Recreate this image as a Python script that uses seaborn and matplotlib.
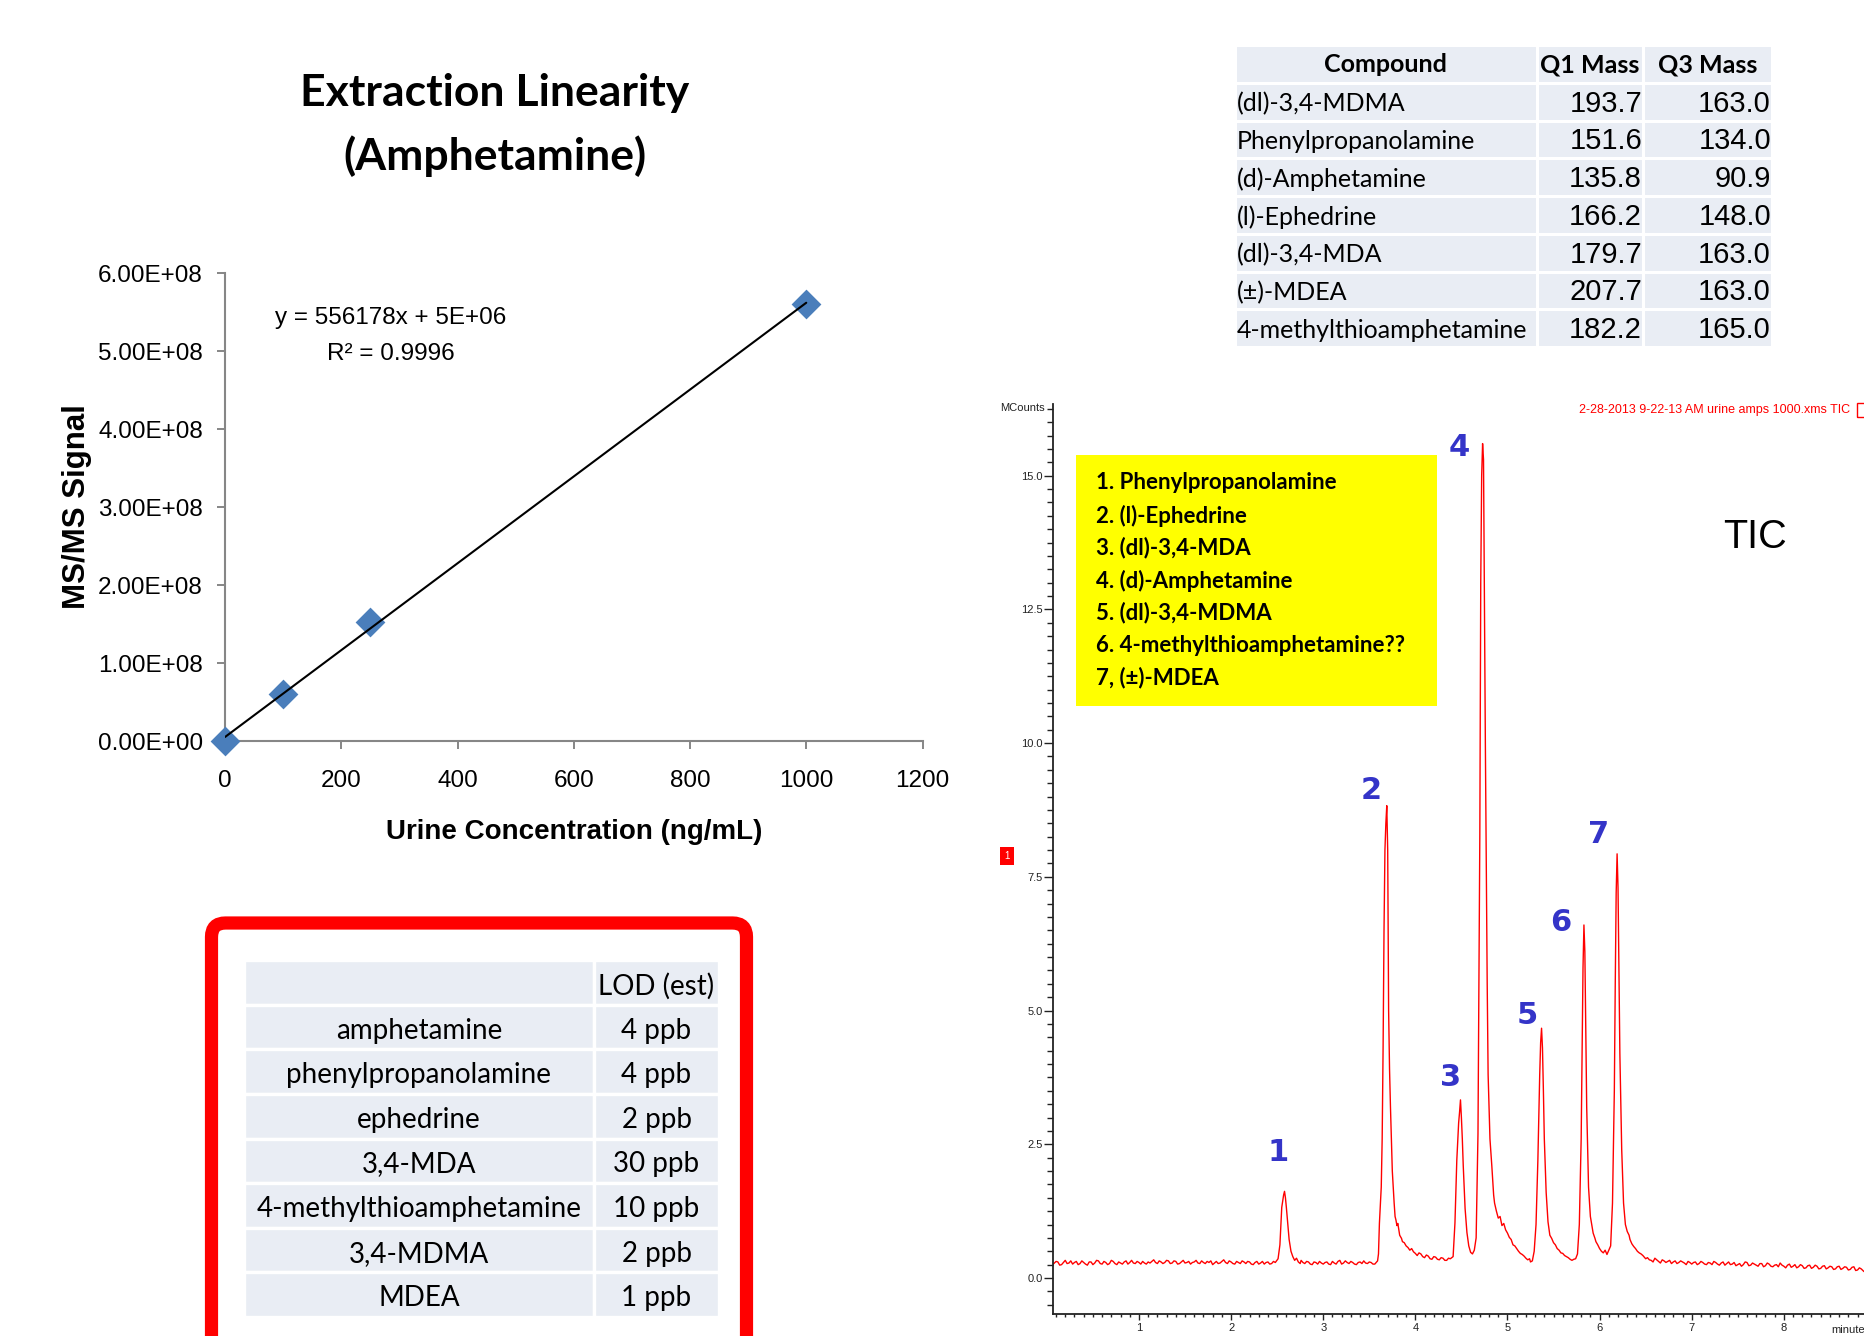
import matplotlib
matplotlib.use("Agg")
import matplotlib.pyplot as plt
import seaborn as sns
import pandas as pd
from matplotlib import font_manager
from matplotlib.patches import Rectangle, FancyBboxPatch
from matplotlib.transforms import IdentityTransform
from matplotlib.ticker import MultipleLocator, FixedLocator, FuncFormatter

# ---------------- data ----------------
conc_ng_ml = [0, 100, 250, 1000]
msms_signal = [0.0, 6.0e7, 1.52e8, 5.60e8]
equation_text = "y = 556178x + 5E+06"
r2_text = "R\u00b2 = 0.9996"
lin_x_ticks = [0, 200, 400, 600, 800, 1000, 1200]
lin_y_ticks = [0, 1e8, 2e8, 3e8, 4e8, 5e8, 6e8]

mrm_header = ["Compound", "Q1 Mass", "Q3 Mass"]
mrm_compounds = ["(dl)-3,4-MDMA", "Phenylpropanolamine", "(d)-Amphetamine", "(l)-Ephedrine",
                 "(dl)-3,4-MDA", "(\u00b1)-MDEA", "4-methylthioamphetamine"]
mrm_q1 = [193.7, 151.6, 135.8, 166.2, 179.7, 207.7, 182.2]
mrm_q3 = [163.0, 134.0, 90.9, 148.0, 163.0, 163.0, 165.0]

lod_header = "LOD (est)"
lod_names = ["amphetamine", "phenylpropanolamine", "ephedrine", "3,4-MDA",
             "4-methylthioamphetamine", "3,4-MDMA", "MDEA"]
lod_values = ["4 ppb", "4 ppb", "2 ppb", "30 ppb", "10 ppb", "2 ppb", "1 ppb"]

peak_legend = ["1. Phenylpropanolamine", "2. (l)-Ephedrine", "3. (dl)-3,4-MDA",
               "4. (d)-Amphetamine", "5. (dl)-3,4-MDMA", "6. 4-methylthioamphetamine??",
               "7, (\u00b1)-MDEA"]
peak_ids = ["1", "2", "3", "4", "5", "6", "7"]
peak_label_min = [2.51, 3.52, 4.38, 4.48, 5.22, 5.58, 5.99]
peak_label_mcounts = [2.34, 9.12, 3.74, 15.52, 4.90, 6.65, 8.30]
tic_y_ticks = [0.0, 2.5, 5.0, 7.5, 10.0, 12.5, 15.0]
tic_x_ticks = [1, 2, 3, 4, 5, 6, 7, 8]
run_header = "2-28-2013 9-22-13 AM urine amps 1000.xms TIC"

# TIC trace (minutes, MCounts)
tic_points = [
    (0.07, 0.26), (0.10, 0.31), (0.12, 0.30), (0.14, 0.24), (0.16, 0.25), (0.18, 0.29), (0.20, 0.33),
    (0.22, 0.27), (0.24, 0.28), (0.26, 0.32), (0.28, 0.26), (0.30, 0.29), (0.32, 0.31), (0.34, 0.25),
    (0.36, 0.27), (0.38, 0.32), (0.40, 0.29), (0.42, 0.26), (0.44, 0.24), (0.46, 0.30), (0.48, 0.30),
    (0.50, 0.25), (0.52, 0.28), (0.54, 0.33), (0.56, 0.32), (0.58, 0.27), (0.60, 0.26), (0.62, 0.31),
    (0.64, 0.29), (0.66, 0.25), (0.68, 0.27), (0.70, 0.33), (0.72, 0.31), (0.74, 0.27), (0.76, 0.25),
    (0.78, 0.30), (0.80, 0.28), (0.82, 0.26), (0.84, 0.30), (0.86, 0.32), (0.88, 0.26), (0.90, 0.29),
    (0.92, 0.33), (0.94, 0.28), (0.96, 0.27), (0.98, 0.31), (1.00, 0.29), (1.02, 0.26), (1.04, 0.31),
    (1.06, 0.28), (1.08, 0.26), (1.10, 0.30), (1.12, 0.28), (1.14, 0.31), (1.16, 0.34), (1.18, 0.29),
    (1.20, 0.27), (1.22, 0.32), (1.24, 0.30), (1.26, 0.27), (1.28, 0.29), (1.30, 0.33), (1.32, 0.32),
    (1.34, 0.27), (1.36, 0.28), (1.38, 0.32), (1.40, 0.31), (1.42, 0.26), (1.44, 0.27), (1.46, 0.30),
    (1.48, 0.33), (1.50, 0.28), (1.52, 0.29), (1.54, 0.31), (1.56, 0.26), (1.58, 0.29), (1.60, 0.30),
    (1.62, 0.33), (1.64, 0.28), (1.66, 0.27), (1.68, 0.32), (1.70, 0.29), (1.72, 0.27), (1.74, 0.31),
    (1.76, 0.29), (1.78, 0.32), (1.80, 0.25), (1.82, 0.28), (1.84, 0.31), (1.86, 0.27), (1.88, 0.28),
    (1.90, 0.31), (1.92, 0.34), (1.94, 0.29), (1.96, 0.27), (1.98, 0.32), (2.00, 0.30), (2.02, 0.27),
    (2.04, 0.26), (2.06, 0.31), (2.08, 0.29), (2.10, 0.27), (2.12, 0.32), (2.14, 0.30), (2.16, 0.27),
    (2.18, 0.31), (2.20, 0.30), (2.22, 0.26), (2.24, 0.25), (2.26, 0.29), (2.28, 0.31), (2.30, 0.26),
    (2.32, 0.28), (2.34, 0.31), (2.36, 0.26), (2.38, 0.29), (2.40, 0.30), (2.42, 0.26), (2.44, 0.27),
    (2.46, 0.31), (2.48, 0.29),
    # peak 1
    (2.51, 0.36), (2.53, 0.62), (2.55, 1.32), (2.57, 1.55), (2.58, 1.62), (2.59, 1.50), (2.60, 1.32),
    (2.62, 0.92), (2.63, 0.72), (2.65, 0.50), (2.67, 0.40), (2.69, 0.33), (2.71, 0.37), (2.73, 0.30),
    (2.75, 0.27), (2.76, 0.33), (2.78, 0.29), (2.80, 0.27), (2.82, 0.31), (2.84, 0.30), (2.86, 0.26),
    (2.88, 0.25), (2.90, 0.30), (2.92, 0.29), (2.94, 0.26), (2.96, 0.31), (2.98, 0.28), (3.00, 0.26),
    (3.02, 0.29), (3.04, 0.30), (3.06, 0.26), (3.08, 0.25), (3.10, 0.31), (3.12, 0.28), (3.14, 0.26),
    (3.16, 0.31), (3.18, 0.33), (3.20, 0.26), (3.22, 0.28), (3.24, 0.32), (3.26, 0.29), (3.28, 0.27),
    (3.30, 0.31), (3.32, 0.29), (3.34, 0.26), (3.36, 0.25), (3.38, 0.29), (3.40, 0.30), (3.42, 0.27),
    (3.44, 0.32), (3.46, 0.28), (3.48, 0.27), (3.50, 0.30), (3.52, 0.29), (3.54, 0.26), (3.56, 0.26),
    # peak 2
    (3.59, 0.32), (3.60, 0.45), (3.61, 1.02), (3.63, 1.70), (3.64, 2.60), (3.65, 4.30), (3.66, 6.50),
    (3.67, 8.00), (3.68, 8.50), (3.69, 8.83), (3.70, 8.00), (3.71, 5.00), (3.72, 3.90), (3.73, 3.20),
    (3.75, 2.00), (3.77, 1.40), (3.78, 1.15), (3.79, 1.08), (3.80, 0.98), (3.81, 1.02), (3.83, 0.80),
    (3.85, 0.74), (3.86, 0.68), (3.88, 0.66), (3.90, 0.60), (3.92, 0.57), (3.94, 0.52), (3.96, 0.55),
    (3.98, 0.49), (4.00, 0.46), (4.02, 0.42), (4.04, 0.47), (4.06, 0.45), (4.08, 0.40), (4.10, 0.38),
    (4.12, 0.43), (4.14, 0.41), (4.16, 0.36), (4.18, 0.35), (4.20, 0.40), (4.22, 0.39), (4.24, 0.35),
    (4.26, 0.34), (4.28, 0.38), (4.30, 0.37), (4.32, 0.33), (4.34, 0.33), (4.36, 0.37), (4.38, 0.36),
    (4.41, 0.40),
    # peak 3
    (4.43, 1.03), (4.45, 2.20), (4.47, 2.90), (4.48, 3.10), (4.49, 3.33), (4.50, 3.00), (4.51, 2.60),
    (4.52, 2.10), (4.54, 1.30), (4.56, 0.85), (4.58, 0.60), (4.60, 0.48), (4.62, 0.45), (4.64, 0.52),
    (4.66, 0.75),
    # peak 4
    (4.68, 2.70), (4.70, 8.30), (4.71, 13.00), (4.72, 15.00), (4.73, 15.60), (4.74, 15.30),
    (4.75, 12.50), (4.76, 10.00), (4.77, 7.80), (4.78, 5.50), (4.79, 3.80), (4.81, 2.60), (4.83, 2.10),
    (4.85, 1.55), (4.86, 1.40), (4.88, 1.25), (4.90, 1.12), (4.92, 1.15), (4.94, 0.98), (4.96, 1.02),
    (4.98, 0.90), (5.00, 0.84), (5.02, 0.76), (5.04, 0.72), (5.06, 0.62), (5.08, 0.60), (5.10, 0.55),
    (5.12, 0.50), (5.14, 0.46), (5.16, 0.44), (5.18, 0.41), (5.20, 0.37), (5.22, 0.34), (5.24, 0.36),
    (5.25, 0.30),
    # peak 5
    (5.27, 0.32), (5.29, 0.50), (5.31, 1.00), (5.33, 2.20), (5.35, 3.80), (5.36, 4.40), (5.37, 4.67),
    (5.38, 4.30), (5.39, 3.50), (5.40, 2.60), (5.42, 1.60), (5.44, 1.05), (5.46, 0.80), (5.48, 0.74),
    (5.50, 0.66), (5.52, 0.62), (5.54, 0.55), (5.56, 0.52), (5.58, 0.47), (5.60, 0.46), (5.62, 0.42),
    (5.64, 0.40), (5.66, 0.38), (5.68, 0.35), (5.70, 0.33), (5.72, 0.35), (5.74, 0.36),
    # peak 6
    (5.76, 0.45), (5.78, 1.00), (5.80, 2.60), (5.81, 4.20), (5.82, 5.80), (5.83, 6.60), (5.84, 6.10),
    (5.85, 4.60), (5.86, 3.20), (5.88, 1.70), (5.90, 1.15), (5.92, 0.95), (5.93, 0.84), (5.95, 0.74),
    (5.96, 0.68), (5.98, 0.62), (6.00, 0.55), (6.02, 0.50), (6.04, 0.47), (6.06, 0.52), (6.08, 0.44),
    (6.10, 0.52),
    # peak 7
    (6.12, 0.60), (6.14, 1.40), (6.16, 3.50), (6.17, 5.50), (6.18, 7.20), (6.19, 7.93), (6.20, 7.30),
    (6.21, 5.80), (6.22, 4.20), (6.24, 2.40), (6.26, 1.40), (6.28, 1.00), (6.30, 0.87), (6.32, 0.80),
    (6.33, 0.72), (6.35, 0.64), (6.37, 0.59), (6.39, 0.55), (6.41, 0.50), (6.43, 0.47), (6.45, 0.45),
    (6.47, 0.42), (6.48, 0.40), (6.50, 0.36), (6.52, 0.38), (6.54, 0.34),
    (6.56, 0.33), (6.58, 0.30), (6.60, 0.37), (6.62, 0.34), (6.64, 0.31), (6.66, 0.28), (6.68, 0.34),
    (6.70, 0.32), (6.72, 0.29), (6.74, 0.31), (6.76, 0.33), (6.78, 0.27), (6.80, 0.30), (6.82, 0.32),
    (6.84, 0.27), (6.86, 0.29), (6.88, 0.32), (6.90, 0.30), (6.92, 0.28), (6.94, 0.25), (6.96, 0.31),
    (6.98, 0.29), (7.00, 0.26), (7.02, 0.29), (7.04, 0.30), (7.06, 0.25), (7.08, 0.27), (7.10, 0.31),
    (7.12, 0.29), (7.14, 0.26), (7.16, 0.25), (7.18, 0.29), (7.20, 0.28), (7.22, 0.25), (7.24, 0.31),
    (7.26, 0.29), (7.28, 0.26), (7.30, 0.24), (7.32, 0.28), (7.34, 0.30), (7.36, 0.24), (7.38, 0.27),
    (7.40, 0.30), (7.42, 0.25), (7.44, 0.26), (7.46, 0.29), (7.48, 0.23), (7.50, 0.25), (7.52, 0.27),
    (7.54, 0.22), (7.56, 0.25), (7.58, 0.30), (7.60, 0.29), (7.62, 0.23), (7.64, 0.24), (7.66, 0.28),
    (7.68, 0.26), (7.70, 0.24), (7.72, 0.22), (7.74, 0.27), (7.76, 0.27), (7.78, 0.21), (7.80, 0.23),
    (7.82, 0.28), (7.84, 0.26), (7.86, 0.22), (7.88, 0.21), (7.90, 0.24), (7.92, 0.25), (7.94, 0.21),
    (7.96, 0.28), (7.98, 0.24), (8.00, 0.22), (8.02, 0.19), (8.04, 0.24), (8.06, 0.26), (8.08, 0.20),
    (8.10, 0.22), (8.12, 0.25), (8.14, 0.19), (8.16, 0.21), (8.18, 0.25), (8.20, 0.23), (8.22, 0.18),
    (8.24, 0.19), (8.26, 0.23), (8.28, 0.24), (8.30, 0.18), (8.32, 0.20), (8.34, 0.24), (8.36, 0.22),
    (8.38, 0.17), (8.40, 0.18), (8.42, 0.22), (8.44, 0.23), (8.46, 0.17), (8.48, 0.19), (8.50, 0.22),
    (8.52, 0.21), (8.54, 0.16), (8.56, 0.17), (8.58, 0.21), (8.60, 0.22), (8.62, 0.16), (8.64, 0.18),
    (8.66, 0.21), (8.68, 0.20), (8.70, 0.15), (8.72, 0.16), (8.74, 0.20), (8.76, 0.21), (8.78, 0.14),
    (8.80, 0.15), (8.82, 0.19), (8.84, 0.17), (8.87, 0.12),
]

# ---------------- style ----------------
sns.set_theme(style="white")
_names = {f.name for f in font_manager.fontManager.ttflist}
CAL = "Lato" if "Lato" in _names else "DejaVu Sans"
NARROW = "Liberation Sans Narrow" if "Liberation Sans Narrow" in _names else "Liberation Sans"
ARIAL = "Liberation Sans"
plt.rcParams["font.family"] = [CAL, "DejaVu Sans"]
plt.rcParams["text.color"] = "black"
plt.rcParams["axes.labelcolor"] = "black"

W, H = 1864, 1336
fig = plt.figure(figsize=(W / 100, H / 100), dpi=100, facecolor="white")


def rect(l, t, r, b):
    return [l / W, 1 - b / H, (r - l) / W, (b - t) / H]


def fpos(x, y):
    return x / W, 1 - y / H


CELL = "#E9EDF4"
AXGREY = "#868686"

# ---------------- linearity plot ----------------
ax1 = fig.add_axes(rect(225, 273, 922.5, 741))
lin = pd.DataFrame({"conc": conc_ng_ml, "signal": msms_signal})
sns.regplot(data=lin, x="conc", y="signal", scatter=False, ci=None, truncate=True,
            color="black", line_kws={"linewidth": 1.5, "zorder": 4}, ax=ax1)
sns.scatterplot(data=lin, x="conc", y="signal", marker="D", s=230, color="#4A7EBB",
                linewidth=0, zorder=3, clip_on=False, legend=False, ax=ax1)
ax1.set_xlim(0, 1200)
ax1.set_ylim(0, 6e8)
ax1.xaxis.set_major_locator(FixedLocator(lin_x_ticks))
ax1.yaxis.set_major_locator(FixedLocator(lin_y_ticks))
ax1.yaxis.set_major_formatter(FuncFormatter(lambda v, p: f"{v:.2E}"))
sns.despine(ax=ax1)
for s in ("left", "bottom"):
    ax1.spines[s].set_color(AXGREY)
    ax1.spines[s].set_linewidth(1.5)
ax1.tick_params(axis="both", direction="out", length=6, width=1.4, color=AXGREY,
                labelsize=17.5, labelcolor="black", labelfontfamily=NARROW)
ax1.tick_params(axis="y", pad=10, left=True)
ax1.tick_params(axis="x", pad=15, bottom=True)
ax1.set_xlabel("Urine Concentration (ng/mL)", fontsize=20, fontweight="bold", family=NARROW, color="black")
ax1.set_ylabel("MS/MS Signal", fontsize=22.5, fontweight="bold", family=NARROW, color="black")
ax1.xaxis.label.set_va("center")
ax1.yaxis.label.set_va("center")
ax1.xaxis.set_label_coords(0.5, -(832 - 741) / 468)
ax1.yaxis.set_label_coords((77 - 225) / 697.5, 0.5)

fig.text(*fpos(495, 93), "Extraction Linearity", ha="center", va="center",
         fontsize=32, fontweight="bold", family=CAL, color="black")
fig.text(*fpos(495, 156), "(Amphetamine)", ha="center", va="center",
         fontsize=32, fontweight="bold", family=CAL, color="black")
fig.text(*fpos(391, 318), equation_text, ha="center", va="center", fontsize=17.5, family=NARROW)
fig.text(*fpos(391, 354), r2_text, ha="center", va="center", fontsize=17.5, family=NARROW)

# ---------------- MRM table (top right) ----------------
ax3 = fig.add_axes(rect(1235, 45, 1772, 347))
ax3.set_xlim(0, 537)
ax3.set_ylim(8, 0)
ax3.axis("off")
mrm_edges = [0, 301.5, 408, 537]
rows = [r + 0.5 for r in range(len(mrm_compounds) + 1)]
for c in range(3):
    ax3.barh(rows, [mrm_edges[c + 1] - mrm_edges[c]] * len(rows), left=mrm_edges[c], height=1.0,
             color=CELL, edgecolor="white", linewidth=2.2)
hdr_x = [(mrm_edges[i] + mrm_edges[i + 1]) / 2 for i in range(3)]
for i, h in enumerate(mrm_header):
    ax3.text(hdr_x[i], 0.52, h, ha="center", va="center", fontsize=18, fontweight="bold", family=CAL)
for r, (nm, a, b) in enumerate(zip(mrm_compounds, mrm_q1, mrm_q3)):
    y = r + 1.55
    ax3.text(2, y, nm, ha="left", va="center", fontsize=18, family=CAL)
    ax3.text(mrm_edges[2] - 1, y, f"{a:.1f}", ha="right", va="center", fontsize=21, family=NARROW)
    ax3.text(mrm_edges[3] - 1, y, f"{b:.1f}", ha="right", va="center", fontsize=21, family=NARROW)

# ---------------- LOD table (bottom left) ----------------
frame = FancyBboxPatch((211.5, H - 1420), 535, 1420 - 923,
                       boxstyle="round,pad=0,rounding_size=14", transform=IdentityTransform(),
                       linewidth=9.5, edgecolor="#FF0000", facecolor="none")
fig.add_artist(frame)
ax4 = fig.add_axes(rect(244, 960, 719, 1317))
ax4.set_xlim(0, 475)
ax4.set_ylim(8, 0)
ax4.axis("off")
lod_edges = [0, 350, 475]
rows = [r + 0.5 for r in range(len(lod_names) + 1)]
for c in range(2):
    ax4.barh(rows, [lod_edges[c + 1] - lod_edges[c]] * len(rows), left=lod_edges[c], height=1.0,
             color=CELL, edgecolor="white", linewidth=2.4)
cx = [(lod_edges[i] + lod_edges[i + 1]) / 2 for i in range(2)]
ax4.text(cx[1], 0.58, lod_header, ha="center", va="center", fontsize=20, family=CAL)
for r, (nm, v) in enumerate(zip(lod_names, lod_values)):
    ax4.text(cx[0], r + 1.58, nm, ha="center", va="center", fontsize=20, family=CAL)
    ax4.text(cx[1], r + 1.58, v, ha="center", va="center", fontsize=20, family=CAL)

# ---------------- chromatogram ----------------
ax2 = fig.add_axes(rect(1053, 404, 1864, 1314))
tic = pd.DataFrame(tic_points, columns=["minutes", "MCounts"])
sns.lineplot(data=tic, x="minutes", y="MCounts", color="#FF0000", linewidth=1.0,
             sort=False, estimator=None, ax=ax2)
ax2.set_xlim(0.067, 8.87)
ax2.set_ylim(-0.673, 16.34)
sns.despine(ax=ax2)
for s in ("left", "bottom"):
    ax2.spines[s].set_color("#222222")
    ax2.spines[s].set_linewidth(1.3)
ax2.yaxis.set_major_locator(FixedLocator(tic_y_ticks))
ax2.yaxis.set_major_formatter(FuncFormatter(lambda v, p: f"{v:.1f}"))
ax2.yaxis.set_minor_locator(MultipleLocator(0.25))
ax2.xaxis.set_major_locator(FixedLocator(tic_x_ticks))
ax2.xaxis.set_minor_locator(MultipleLocator(0.1))
ax2.tick_params(axis="y", which="major", direction="out", length=6.5, width=1.0, color="#222222",
                labelsize=8, pad=1, left=True, labelfontfamily=ARIAL, labelcolor="#222222")
ax2.tick_params(axis="y", which="minor", direction="out", length=4, width=1.0, color="#222222", left=True)
ax2.tick_params(axis="x", which="major", direction="out", length=4.5, width=1.0, color="#222222",
                labelsize=8, pad=2, bottom=True, labelfontfamily=ARIAL, labelcolor="#222222")
ax2.tick_params(axis="x", which="minor", direction="out", length=2.5, width=1.0, color="#222222", bottom=True)
ax2.set_xlabel("")
ax2.set_ylabel("")
for pid, px, py in zip(peak_ids, peak_label_min, peak_label_mcounts):
    ax2.text(px, py, pid, ha="center", va="center", color="#3434C8", fontsize=22,
             fontweight="bold", family="DejaVu Sans")

fig.text(*fpos(1045, 408), "MCounts", ha="right", va="center", fontsize=8, family=ARIAL, color="#222222")
fig.text(*fpos(1831, 1330), "minutes", ha="left", va="center", fontsize=8, family=ARIAL, color="#222222")
fig.text(*fpos(1579, 410), run_header, ha="left", va="center", fontsize=9, family=ARIAL, color="#FF0000")
fig.add_artist(Rectangle(fpos(1857, 417), 12 / W, 14 / H, transform=fig.transFigure,
                         fill=False, edgecolor="#FF0000", linewidth=1.0))
fig.text(*fpos(1007, 856), "1", ha="center", va="center", fontsize=7, color="white", family=ARIAL,
         bbox=dict(boxstyle="square,pad=0.4", fc="#FF0000", ec="none"))
fig.text(*fpos(1755, 537), "TIC", ha="center", va="center", fontsize=28.5, family=ARIAL, color="black")

fig.add_artist(Rectangle(fpos(1076, 706), (1437 - 1076) / W, (706 - 455) / H,
                         transform=fig.transFigure, facecolor="#FFFF00", edgecolor="none", zorder=5))
for i, line in enumerate(peak_legend):
    fig.text(*fpos(1096, 483 + i * 32.5), line, ha="left", va="center", fontsize=16,
             fontweight="bold", family=CAL, zorder=6, color="black")

fig.savefig("out.png", dpi=100, facecolor="white")
